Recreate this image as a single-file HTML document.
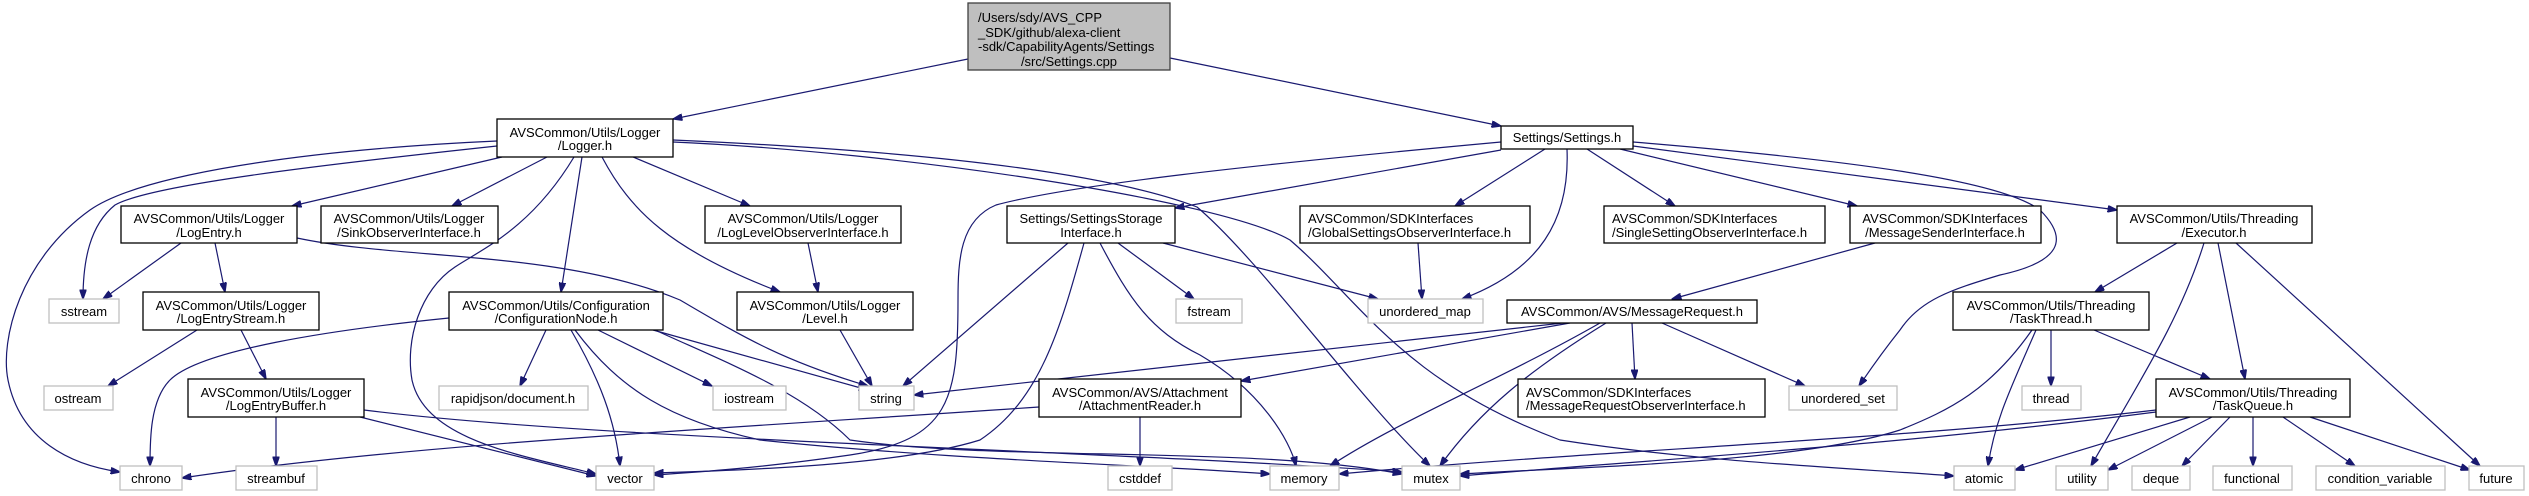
<!DOCTYPE html>
<html><head><meta charset="utf-8"><style>
html,body{margin:0;padding:0;background:#fff;}
svg{display:block;}
text{font-family:"Liberation Sans",Arial,sans-serif;font-size:13px;fill:#000;}
.n{fill:#fff;stroke:#000;stroke-width:1.3;}
.l{fill:#fff;stroke:#bfbfbf;stroke-width:1.3;}
.e{fill:none;stroke:#191970;stroke-width:1.2;marker-end:url(#a);}
</style></head><body>
<svg width="2529" height="496" viewBox="0 0 2529 496" xmlns="http://www.w3.org/2000/svg">
<defs><marker id="a" viewBox="0 0 10 7" refX="9.5" refY="3.5" markerWidth="10" markerHeight="7" markerUnits="userSpaceOnUse" orient="auto"><path d="M0,0L10,3.5L0,7z" fill="#191970" stroke="#191970"/></marker></defs>
<g>
<!-- edges -->
<path class="e" d="M968,59 L673,119"/>
<path class="e" d="M1170,58 L1501,126"/>
<!-- Logger.h -->
<path class="e" d="M497,141 C300,150 140,175 90,210 C20,260 0,340 8,380 C20,440 70,465 120,472"/>
<path class="e" d="M497,146 C320,165 150,185 115,205 C90,225 83,260 83,299"/>
<path class="e" d="M502,157 L292,206"/>
<path class="e" d="M547,157 L452,206"/>
<path class="e" d="M574,157 C530,230 480,250 455,267 C420,290 405,340 412,380 C425,440 520,455 596,474"/>
<path class="e" d="M582,157 L561,292"/>
<path class="e" d="M602,157 C630,210 670,250 780,292"/>
<path class="e" d="M633,157 L750,206"/>
<path class="e" d="M673,140 C900,150 1100,170 1197,207 C1260,260 1360,400 1430,466"/>
<path class="e" d="M673,142 C900,152 1220,200 1290,240 C1360,300 1400,380 1560,440 C1700,462 1850,468 1954,476"/>
<!-- LogEntry -->
<path class="e" d="M181,243 L103,299"/>
<path class="e" d="M215,243 L225,292"/>
<path class="e" d="M297,238 C400,260 560,250 680,300 C740,335 780,360 868,386"/>
<!-- LogEntryStream -->
<path class="e" d="M197,330 L108,386"/>
<path class="e" d="M241,330 L266,379"/>
<!-- LogEntryBuffer -->
<path class="e" d="M276,417 L276,466"/>
<path class="e" d="M360,417 L596,476"/>
<path class="e" d="M364,410 C600,440 1100,450 1402,472"/>
<!-- ConfigurationNode -->
<path class="e" d="M449,318 C330,330 200,350 170,380 C150,400 150,440 150,466"/>
<path class="e" d="M546,330 L520,386"/>
<path class="e" d="M571,330 C600,380 615,420 620,466"/>
<path class="e" d="M598,330 L712,386"/>
<path class="e" d="M653,330 L868,390"/>
<path class="e" d="M575,330 C620,390 670,420 760,440 C950,460 1150,465 1270,474"/>
<path class="e" d="M655,330 C720,360 800,390 850,440 C1000,462 1250,445 1402,474"/>
<!-- LogLevelObserver, Level -->
<path class="e" d="M808,243 L818,292"/>
<path class="e" d="M840,330 L872,386"/>
<!-- Settings.h -->
<path class="e" d="M1501,142 C1250,165 1070,185 996,205 C960,220 958,260 958,300 C958,400 950,440 850,455 C760,468 700,472 654,475"/>
<path class="e" d="M1501,150 L1175,208"/>
<path class="e" d="M1545,149 L1455,206"/>
<path class="e" d="M1567,149 C1570,220 1540,270 1462,299"/>
<path class="e" d="M1587,149 L1675,206"/>
<path class="e" d="M1620,149 L1857,206"/>
<path class="e" d="M1633,146 L2117,210"/>
<path class="e" d="M1633,142 C1850,160 2000,180 2040,210 C2070,240 2060,262 2000,275 C1950,290 1920,300 1900,330 C1880,355 1870,370 1859,386"/>
<!-- SettingsStorage -->
<path class="e" d="M1068,243 L903,386"/>
<path class="e" d="M1084,243 C1060,330 1040,400 980,440 C900,465 750,470 654,473"/>
<path class="e" d="M1100,243 C1130,300 1150,330 1200,355 C1260,390 1290,440 1296,466"/>
<path class="e" d="M1118,243 L1194,299"/>
<path class="e" d="M1163,243 L1378,299"/>
<path class="e" d="M1418,243 L1422,299"/>
<!-- MessageSender -->
<path class="e" d="M1875,243 L1672,299"/>
<!-- MessageRequest -->
<path class="e" d="M1563,323 L914,395"/>
<path class="e" d="M1570,323 L1241,381"/>
<path class="e" d="M1600,323 C1500,380 1400,420 1330,466"/>
<path class="e" d="M1606,323 C1530,370 1480,410 1440,466"/>
<path class="e" d="M1632,323 L1635,379"/>
<path class="e" d="M1662,323 L1805,386"/>
<!-- AttachmentReader -->
<path class="e" d="M1140,417 L1140,466"/>
<path class="e" d="M1039,407 C700,430 400,445 182,478"/>
<!-- Executor -->
<path class="e" d="M2177,243 L2095,292"/>
<path class="e" d="M2204,243 C2180,320 2140,380 2091,466"/>
<path class="e" d="M2218,243 L2245,379"/>
<path class="e" d="M2236,243 L2480,466"/>
<!-- TaskThread -->
<path class="e" d="M2051,330 L2051,386"/>
<path class="e" d="M2094,330 L2210,379"/>
<path class="e" d="M2036,330 C2010,390 1995,420 1988,466"/>
<path class="e" d="M2032,330 C1990,390 1950,410 1900,430 C1800,462 1600,466 1460,474"/>
<!-- TaskQueue -->
<path class="e" d="M2156,410 C1900,440 1600,450 1339,474"/>
<path class="e" d="M2156,412 C1900,445 1650,460 1460,476"/>
<path class="e" d="M2190,417 L2015,470"/>
<path class="e" d="M2212,417 L2108,470"/>
<path class="e" d="M2230,417 L2182,466"/>
<path class="e" d="M2253,417 L2253,466"/>
<path class="e" d="M2283,417 L2355,466"/>
<path class="e" d="M2310,417 L2470,470"/>
</g>
<g>
<!-- root -->
<rect x="968" y="3" width="202" height="67" fill="#bfbfbf" stroke="#404040" stroke-width="1.3"/>
<text x="978" y="22">/Users/sdy/AVS_CPP</text>
<text x="978" y="37">_SDK/github/alexa-client</text>
<text x="978" y="51">-sdk/CapabilityAgents/Settings</text>
<text x="1069" y="66" text-anchor="middle">/src/Settings.cpp</text>

<rect class="n" x="497" y="119" width="176" height="38"/>
<text x="585" y="137" text-anchor="middle">AVSCommon/Utils/Logger</text><text x="585" y="150" text-anchor="middle">/Logger.h</text>

<rect class="n" x="1501" y="126" width="132" height="23"/>
<text x="1567" y="142" text-anchor="middle">Settings/Settings.h</text>

<rect class="n" x="121" y="206" width="176" height="37"/>
<text x="209" y="223" text-anchor="middle">AVSCommon/Utils/Logger</text><text x="209" y="237" text-anchor="middle">/LogEntry.h</text>

<rect class="n" x="321" y="206" width="177" height="37"/>
<text x="409" y="223" text-anchor="middle">AVSCommon/Utils/Logger</text><text x="409" y="237" text-anchor="middle">/SinkObserverInterface.h</text>

<rect class="n" x="705" y="206" width="196" height="37"/>
<text x="803" y="223" text-anchor="middle">AVSCommon/Utils/Logger</text><text x="803" y="237" text-anchor="middle">/LogLevelObserverInterface.h</text>

<rect class="n" x="1007" y="206" width="168" height="37"/>
<text x="1091" y="223" text-anchor="middle">Settings/SettingsStorage</text><text x="1091" y="237" text-anchor="middle">Interface.h</text>

<rect class="n" x="1300" y="206" width="230" height="37"/>
<text x="1308" y="223">AVSCommon/SDKInterfaces</text><text x="1308" y="237">/GlobalSettingsObserverInterface.h</text>

<rect class="n" x="1604" y="206" width="221" height="37"/>
<text x="1612" y="223">AVSCommon/SDKInterfaces</text><text x="1612" y="237">/SingleSettingObserverInterface.h</text>

<rect class="n" x="1850" y="206" width="191" height="37"/>
<text x="1945" y="223" text-anchor="middle">AVSCommon/SDKInterfaces</text><text x="1945" y="237" text-anchor="middle">/MessageSenderInterface.h</text>

<rect class="n" x="2117" y="206" width="195" height="37"/>
<text x="2214" y="223" text-anchor="middle">AVSCommon/Utils/Threading</text><text x="2214" y="237" text-anchor="middle">/Executor.h</text>

<rect class="l" x="49" y="299" width="70" height="24"/><text x="84" y="316" text-anchor="middle">sstream</text>

<rect class="n" x="143" y="292" width="176" height="38"/>
<text x="231" y="310" text-anchor="middle">AVSCommon/Utils/Logger</text><text x="231" y="323" text-anchor="middle">/LogEntryStream.h</text>

<rect class="n" x="449" y="292" width="214" height="38"/>
<text x="556" y="310" text-anchor="middle">AVSCommon/Utils/Configuration</text><text x="556" y="323" text-anchor="middle">/ConfigurationNode.h</text>

<rect class="n" x="737" y="292" width="176" height="38"/>
<text x="825" y="310" text-anchor="middle">AVSCommon/Utils/Logger</text><text x="825" y="323" text-anchor="middle">/Level.h</text>

<rect class="l" x="1176" y="299" width="66" height="24"/><text x="1209" y="316" text-anchor="middle">fstream</text>
<rect class="l" x="1368" y="299" width="115" height="24"/><text x="1425" y="316" text-anchor="middle">unordered_map</text>

<rect class="n" x="1507" y="300" width="250" height="23"/>
<text x="1632" y="316" text-anchor="middle">AVSCommon/AVS/MessageRequest.h</text>

<rect class="n" x="1953" y="292" width="196" height="38"/>
<text x="2051" y="310" text-anchor="middle">AVSCommon/Utils/Threading</text><text x="2051" y="323" text-anchor="middle">/TaskThread.h</text>

<rect class="l" x="44" y="386" width="69" height="24"/><text x="78" y="403" text-anchor="middle">ostream</text>

<rect class="n" x="188" y="379" width="176" height="38"/>
<text x="276" y="397" text-anchor="middle">AVSCommon/Utils/Logger</text><text x="276" y="410" text-anchor="middle">/LogEntryBuffer.h</text>

<rect class="l" x="439" y="386" width="149" height="24"/><text x="513" y="403" text-anchor="middle">rapidjson/document.h</text>
<rect class="l" x="713" y="386" width="73" height="24"/><text x="749" y="403" text-anchor="middle">iostream</text>
<rect class="l" x="859" y="386" width="55" height="24"/><text x="886" y="403" text-anchor="middle">string</text>

<rect class="n" x="1039" y="379" width="202" height="38"/>
<text x="1140" y="397" text-anchor="middle">AVSCommon/AVS/Attachment</text><text x="1140" y="410" text-anchor="middle">/AttachmentReader.h</text>

<rect class="n" x="1518" y="379" width="247" height="38"/>
<text x="1526" y="397">AVSCommon/SDKInterfaces</text><text x="1526" y="410">/MessageRequestObserverInterface.h</text>

<rect class="l" x="1789" y="386" width="108" height="24"/><text x="1843" y="403" text-anchor="middle">unordered_set</text>
<rect class="l" x="2022" y="386" width="59" height="24"/><text x="2051" y="403" text-anchor="middle">thread</text>

<rect class="n" x="2156" y="379" width="194" height="38"/>
<text x="2253" y="397" text-anchor="middle">AVSCommon/Utils/Threading</text><text x="2253" y="410" text-anchor="middle">/TaskQueue.h</text>

<rect class="l" x="120" y="466" width="62" height="24"/><text x="151" y="483" text-anchor="middle">chrono</text>
<rect class="l" x="236" y="466" width="81" height="24"/><text x="276" y="483" text-anchor="middle">streambuf</text>
<rect class="l" x="596" y="466" width="58" height="24"/><text x="625" y="483" text-anchor="middle">vector</text>
<rect class="l" x="1108" y="466" width="64" height="24"/><text x="1140" y="483" text-anchor="middle">cstddef</text>
<rect class="l" x="1270" y="466" width="69" height="24"/><text x="1304" y="483" text-anchor="middle">memory</text>
<rect class="l" x="1402" y="466" width="58" height="24"/><text x="1431" y="483" text-anchor="middle">mutex</text>
<rect class="l" x="1954" y="466" width="61" height="24"/><text x="1984" y="483" text-anchor="middle">atomic</text>
<rect class="l" x="2056" y="466" width="52" height="24"/><text x="2082" y="483" text-anchor="middle">utility</text>
<rect class="l" x="2132" y="466" width="58" height="24"/><text x="2161" y="483" text-anchor="middle">deque</text>
<rect class="l" x="2213" y="466" width="79" height="24"/><text x="2252" y="483" text-anchor="middle">functional</text>
<rect class="l" x="2316" y="466" width="129" height="24"/><text x="2380" y="483" text-anchor="middle">condition_variable</text>
<rect class="l" x="2469" y="466" width="55" height="24"/><text x="2496" y="483" text-anchor="middle">future</text>
</g>
</svg>
</body></html>
